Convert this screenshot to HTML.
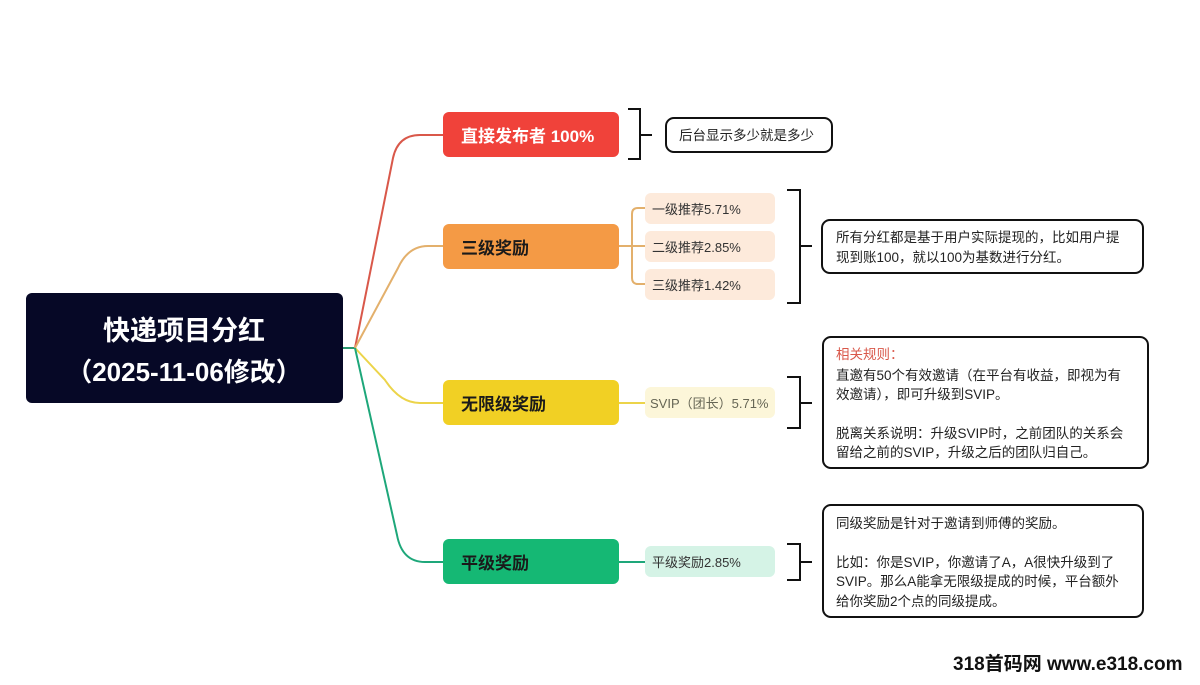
<!DOCTYPE html>
<html><head><meta charset="utf-8"><style>
body{margin:0;background:#fff}
text{font-family:"Liberation Sans","Noto Sans CJK SC",sans-serif}
</style></head><body>
<svg width="1200" height="680" viewBox="0 0 1200 680" xmlns="http://www.w3.org/2000/svg">
<g fill="none" stroke-width="2">
<path d="M343 348 L355 348" stroke="#2a9a70"/>
<path d="M355 348 L393 158 Q 398 135 420 135 L443 135" stroke="#d9584a"/>
<path d="M355 348 L398 268 Q 408 246 428 246 L443 246" stroke="#e3b06c"/>
<path d="M355 348 L385 380 Q 400 403 420 403 L443 403" stroke="#ecd44a"/>
<path d="M355 348 L397 535 Q 402 562 425 562 L443 562" stroke="#1ea77a"/>
<path d="M619 246 L632 246 M645 208 L638 208 Q 632 208 632 214 L632 278 Q 632 284 638 284 L645 284 M632 246 L645 246" stroke="#e3b06c"/>
<path d="M619 403 L645 403" stroke="#ecd44a"/>
<path d="M619 562 L645 562" stroke="#1ea77a"/>
</g>
<rect x="26" y="293" width="317" height="110" rx="6" fill="#060826"/>
<text x="184" y="340" text-anchor="middle" fill="#fff" font-size="27" font-weight="bold">快递项目分红</text>
<text x="184" y="381" text-anchor="middle" fill="#fff" font-size="26" font-weight="bold">（2025-11-06修改）</text>

<rect x="443" y="112" width="176" height="45" rx="6" fill="#f0423a"/>
<text x="461" y="142" fill="#fff" font-size="17" font-weight="bold">直接发布者 100%</text>
<rect x="443" y="224" width="176" height="45" rx="6" fill="#f49a45"/>
<text x="461" y="254" fill="#1a1a1a" font-size="17" font-weight="bold">三级奖励</text>
<rect x="443" y="380" width="176" height="45" rx="6" fill="#f1d024"/>
<text x="461" y="410" fill="#1a1a1a" font-size="17" font-weight="bold">无限级奖励</text>
<rect x="443" y="539" width="176" height="45" rx="6" fill="#15b874"/>
<text x="461" y="569" fill="#1a1a1a" font-size="17" font-weight="bold">平级奖励</text>

<g font-size="13" fill="#333">
<rect x="645" y="193" width="130" height="31" rx="6" fill="#fdeadb"/>
<text x="652" y="214">一级推荐5.71%</text>
<rect x="645" y="231" width="130" height="31" rx="6" fill="#fdeadb"/>
<text x="652" y="252">二级推荐2.85%</text>
<rect x="645" y="269" width="130" height="31" rx="6" fill="#fdeadb"/>
<text x="652" y="290">三级推荐1.42%</text>
<rect x="645" y="387" width="130" height="31" rx="6" fill="#fcf6d9"/>
<text x="650" y="408" fill="#665">SVIP（团长）5.71%</text>
<rect x="645" y="546" width="130" height="31" rx="6" fill="#d5f3e6"/>
<text x="652" y="567">平级奖励2.85%</text>
</g>

<g fill="none" stroke="#111" stroke-width="2">
<path d="M628 109 L640 109 L640 159 L628 159 M640 135 L652 135"/>
<path d="M787 190 L800 190 L800 303 L787 303 M800 246 L812 246"/>
<path d="M787 377 L800 377 L800 428 L787 428 M800 403 L812 403"/>
<path d="M787 544 L800 544 L800 580 L787 580 M800 562 L812 562"/>
<rect x="666" y="118" width="166" height="34" rx="8" fill="#fff"/>
<rect x="822" y="220" width="321" height="53" rx="8" fill="#fff"/>
<rect x="823" y="337" width="325" height="131" rx="8" fill="#fff"/>
<rect x="823" y="505" width="320" height="112" rx="8" fill="#fff"/>
</g>
<g font-size="13.5" fill="#222">
<text x="679" y="140">后台显示多少就是多少</text>
<text x="836" y="242">所有分红都是基于用户实际提现的，比如用户提</text>
<text x="836" y="262">现到账100，就以100为基数进行分红。</text>
<text x="836" y="359" fill="#d9584a">相关规则：</text>
<text x="836" y="380">直邀有50个有效邀请（在平台有收益，即视为有</text>
<text x="836" y="399">效邀请），即可升级到SVIP。</text>
<text x="836" y="438">脱离关系说明：升级SVIP时，之前团队的关系会</text>
<text x="836" y="457">留给之前的SVIP，升级之后的团队归自己。</text>
<text x="836" y="528">同级奖励是针对于邀请到师傅的奖励。</text>
<text x="836" y="567">比如：你是SVIP，你邀请了A，A很快升级到了</text>
<text x="836" y="586">SVIP。那么A能拿无限级提成的时候，平台额外</text>
<text x="836" y="606">给你奖励2个点的同级提成。</text>
</g>
<text x="953" y="670" font-size="19" font-weight="bold" fill="#111">318首码网 www.e318.com</text>
</svg>
</body></html>
